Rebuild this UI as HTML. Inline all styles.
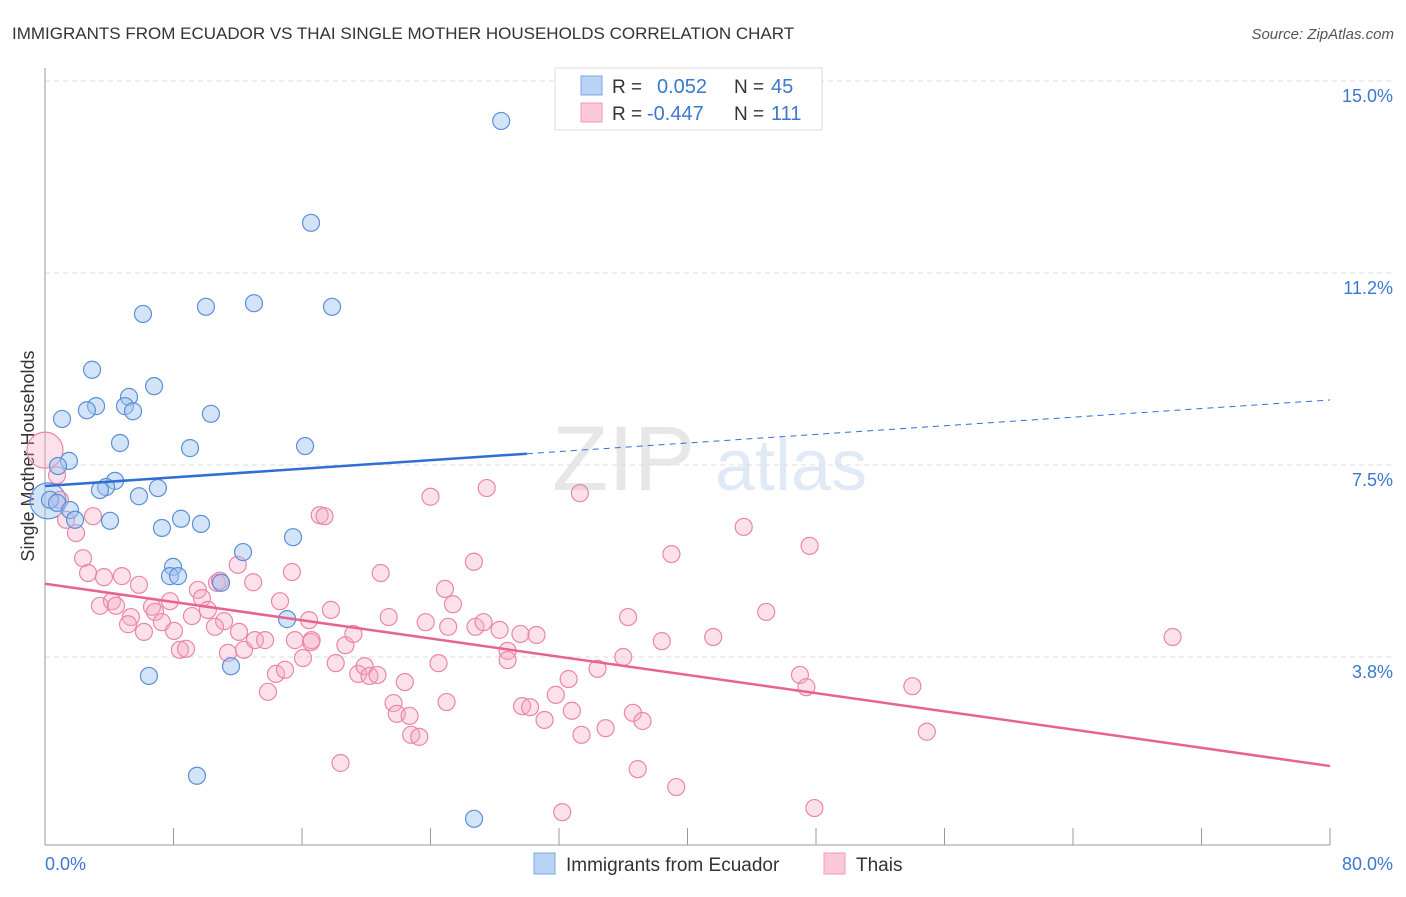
<!DOCTYPE html>
<html><head><meta charset="utf-8"><style>
body{margin:0;background:#fff;font-family:"Liberation Sans",sans-serif}
svg text{font-family:"Liberation Sans",sans-serif}
</style></head><body>
<svg id="chart" width="1406" height="892" xmlns="http://www.w3.org/2000/svg">
<text x="12" y="39" font-size="17" fill="#333">IMMIGRANTS FROM ECUADOR VS THAI SINGLE MOTHER HOUSEHOLDS CORRELATION CHART</text>
<text x="1394" y="39" font-size="15" fill="#555" font-style="italic" text-anchor="end">Source: ZipAtlas.com</text>
<g opacity="0.35">
<text x="552" y="490" font-size="92" font-family="Liberation Serif" fill="#bbb">ZIP</text>
<text x="715" y="490" font-size="72" fill="#a9c6ea">atlas</text>
</g>
<g id="grid"></g>
<line x1="45" y1="68" x2="45" y2="845" stroke="#999"/>
<line x1="45" y1="845" x2="1330" y2="845" stroke="#999"/>
<g id="xticks"></g>
<text x="45" y="870" font-size="18" fill="#3b78d0">0.0%</text>
<text x="1393" y="870" font-size="18" fill="#3b78d0" text-anchor="end">80.0%</text>
<text transform="translate(34,456) rotate(-90)" font-size="18" fill="#333" text-anchor="middle">Single Mother Households</text>
<g id="pts"></g>
<g id="trends"></g>
<g>
<rect x="555" y="68" width="267" height="62" fill="#fff" stroke="#ddd"/>
<rect x="581" y="76" width="21" height="19" fill="#b9d3f5" stroke="#7aa7e2"/>
<rect x="581" y="103" width="21" height="19" fill="#fbc8d8" stroke="#f29ab7"/>
<text x="612" y="93" font-size="19" fill="#333">R =</text>
<text x="657" y="93" font-size="20" fill="#3b78d0">0.052</text>
<text x="734" y="93" font-size="19" fill="#333">N =</text>
<text x="771" y="93" font-size="20" fill="#3b78d0">45</text>
<text x="612" y="120" font-size="19" fill="#333">R =</text>
<text x="647" y="120" font-size="20" fill="#3b78d0">-0.447</text>
<text x="734" y="120" font-size="19" fill="#333">N =</text>
<text x="771" y="120" font-size="20" fill="#3b78d0">111</text>
</g>
<g>
<rect x="534" y="853" width="21" height="21" fill="#b9d3f5" stroke="#7aa7e2"/>
<text x="566" y="871" font-size="19" fill="#333">Immigrants from Ecuador</text>
<rect x="824" y="853" width="21" height="21" fill="#fbc8d8" stroke="#f29ab7"/>
<text x="856" y="871" font-size="19" fill="#333">Thais</text>
</g>
</svg>
<script>
const yTicks=[15.0,11.25,7.5,3.75];
const yTickLabels=["15.0%","11.2%","7.5%","3.8%"];
const xTicks=[0,8,16,24,32,40,48,56,64,72,80];
const blueX=[28.4,16.56,6.10,10.02,13.01,17.87,2.93,6.79,5.23,3.18,2.61,4.98,5.48,10.33,1.06,4.67,9.03,16.19,1.49,0.81,4.36,3.80,3.42,7.03,5.85,0.31,0.75,1.56,1.87,4.05,8.47,7.28,9.71,15.44,12.33,7.97,7.78,8.28,10.96,15.07,11.58,6.47,9.46,26.71];
const blueY=[14.22,12.23,10.45,10.59,10.66,10.59,9.36,9.04,8.83,8.65,8.57,8.65,8.55,8.50,8.40,7.93,7.83,7.87,7.58,7.48,7.19,7.07,7.01,7.05,6.89,6.82,6.76,6.62,6.43,6.41,6.45,6.27,6.35,6.09,5.80,5.51,5.33,5.33,5.20,4.49,3.57,3.38,1.43,0.59];
const pinkX=[0.75,0.93,1.31,1.93,2.99,2.37,2.68,3.67,4.79,5.85,3.42,4.17,4.42,5.35,5.17,6.16,6.66,6.85,7.28,8.03,7.78,8.40,8.78,9.15,9.52,9.77,10.14,10.71,10.89,11.15,10.58,12.0,12.96,12.08,11.39,12.39,13.07,13.7,13.88,14.38,14.94,14.63,15.37,15.56,16.06,16.44,16.56,16.6,17.1,17.4,17.8,18.1,18.7,19.2,19.5,19.9,20.2,20.7,18.4,20.9,21.4,21.7,21.9,22.4,22.7,22.8,23.3,23.7,24.0,24.5,24.9,25.0,25.4,26.7,25.1,26.8,27.3,27.5,28.3,28.8,28.8,29.6,29.7,30.2,30.6,31.1,31.8,32.6,32.8,33.4,34.4,32.2,33.3,34.9,36.0,36.3,36.6,37.2,36.9,38.4,39.0,39.3,41.6,43.5,44.9,47.0,47.4,47.6,47.9,54.0,54.9,70.2];
const pinkY=[7.30,6.82,6.43,6.17,6.50,5.68,5.39,5.31,5.33,5.16,4.75,4.84,4.75,4.53,4.39,4.24,4.73,4.63,4.43,4.26,4.84,3.89,3.91,4.55,5.06,4.90,4.67,5.20,5.24,4.45,4.34,5.55,5.21,4.24,3.83,3.89,4.08,4.08,3.07,3.42,3.50,4.84,5.41,4.08,3.73,4.47,4.04,4.08,6.52,6.50,4.67,3.63,3.98,4.20,3.42,3.57,3.38,3.40,1.68,5.39,4.53,2.85,2.64,3.26,2.60,2.23,2.19,4.43,6.88,3.63,5.08,2.87,4.78,5.61,4.34,4.34,4.43,7.05,4.28,3.87,3.69,4.20,2.79,2.77,4.18,2.52,3.01,3.32,2.70,2.23,3.52,0.72,6.95,2.36,3.75,4.53,2.66,2.50,1.56,4.06,5.76,1.21,4.14,6.29,4.63,3.40,3.16,5.92,0.80,3.18,2.29,4.14];
const bigBlue=[[0.19,6.80]];
const bigPink=[[0,7.79]];
const blueTrend=[7.09,8.77], pinkTrend=[5.18,1.62], blueSolidEnd=30;
const NS="http://www.w3.org/2000/svg";
const sx=v=>45+v/80*1285, sy=v=>81+(15-v)*51.2;
function mk(parent,tag,attrs){const e=document.createElementNS(NS,tag);for(const k in attrs)e.setAttribute(k,attrs[k]);document.getElementById(parent).appendChild(e);return e;}
yTicks.forEach((t,i)=>{
 const l=mk('grid','line',{x1:45,x2:1394,y1:sy(t),y2:sy(t),stroke:'#ddd','stroke-dasharray':'5,4'});
 
 
 const tx=mk('grid','text',{x:1393,y:sy(t)+21,'font-size':18,fill:'#3b78d0','text-anchor':'end'});
 tx.textContent=yTickLabels[i];
 
 
});
xTicks.forEach(t=>{
 const l=mk('xticks','line',{x1:sx(t),x2:sx(t),y1:828,y2:845,stroke:'#999'});
 
 
});
function dot(x,y,r,blue){
 const c=mk('pts','circle',{cx:sx(x),cy:sy(y),r:r,fill:blue?'rgba(160,196,240,0.45)':'rgba(246,170,196,0.35)',stroke:blue?'#5b8fd6':'#ea86a8','stroke-width':1.2});
 
 
}
bigPink.forEach(p=>dot(p[0],p[1],18,false));
bigBlue.forEach(p=>dot(p[0],p[1],18,true));
pinkX.forEach((x,i)=>dot(x,pinkY[i],8.5,false));
blueX.forEach((x,i)=>dot(x,blueY[i],8.5,true));
const by=x=>blueTrend[0]+(blueTrend[1]-blueTrend[0])*x/80;
let t1=mk('trends','line',{x1:sx(0),y1:sy(by(0)),x2:sx(blueSolidEnd),y2:sy(by(blueSolidEnd)),stroke:'#2f6fd3','stroke-width':2.5});


let t2=mk('trends','line',{x1:sx(blueSolidEnd),y1:sy(by(blueSolidEnd)),x2:sx(80),y2:sy(by(80)),stroke:'#2f6fd3','stroke-width':1,'stroke-dasharray':'6,5'});


let t3=mk('trends','line',{x1:sx(0),y1:sy(pinkTrend[0]),x2:sx(80),y2:sy(pinkTrend[1]),stroke:'#e8638f','stroke-width':2.5});


</script>
</body></html>
